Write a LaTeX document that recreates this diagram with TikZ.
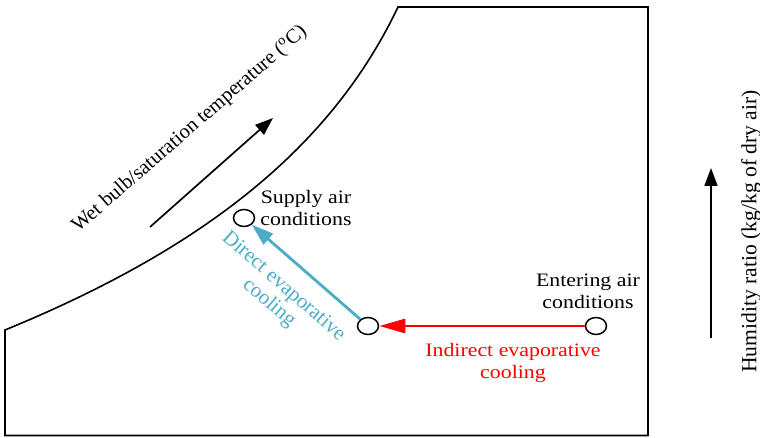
\documentclass[tikz,border=0pt]{standalone}
\usepackage{fontspec}
\setmainfont{Liberation Serif}
\newfontfamily\widefont{Liberation Serif}[FakeStretch=1.15]
\usetikzlibrary{arrows.meta,shapes.geometric}
\definecolor{directblue}{HTML}{4BACC6}
\definecolor{indirectred}{HTML}{FF0000}
\begin{document}
\begin{tikzpicture}[x=1pt,y=1pt,
  outline/.style={line width=1.6pt,line join=miter},
  statept/.style={ellipse,draw,line width=1.5pt,minimum width=21pt,minimum height=17pt,inner sep=0pt},
  lbl/.style={font=\widefont\fontsize{19}{22}\selectfont,align=center,inner sep=0pt},
  axisarrow/.style={-{Triangle[length=18pt,width=13pt]},line width=1.7pt},
  process/.style={line width=2.8pt}]
\useasboundingbox (0,0) rectangle (760,438);

% chart outline with the saturation curve
\draw[outline] (5,2.5) -- (5,108) .. controls (200,188) and (330,288) .. (398,431)
  -- (648,431) -- (648,2.5) -- cycle;

% wet bulb direction
\coordinate (wbA) at (150,211);
\coordinate (wbB) at (273,320);
\draw[axisarrow] (wbA) -- (wbB);
\node[anchor=base,rotate=41,inner sep=0pt,font=\fontsize{20.5}{24}\selectfont]
  (wblabel) at (193,305) {Wet bulb/saturation temperature ($^{\mathrm{o}}$C)};

% humidity ratio direction
\coordinate (hrA) at (711,100);
\coordinate (hrB) at (711,270);
\draw[axisarrow] (hrA) -- (hrB);
\node[rotate=90,inner sep=0pt,font=\fontsize{21.6}{25}\selectfont]
  (hrlabel) at (751,206.5) {Humidity ratio (kg/kg of dry air)};

% air states
\node[statept] (supply) at (244,220) {};
\node[statept] (mid) at (368,112) {};
\node[statept] (enter) at (596,112) {};

\node[lbl] (supplylabel) at (306,230) {Supply air\\conditions};
\node[lbl] (enterlabel) at (588,147) {Entering air\\conditions};

% processes
\draw[process,indirectred,-{Triangle[length=26pt,width=14pt]}] (enter) -- (mid);
\draw[process,directblue,-{Triangle[length=22pt,width=14pt]}] (mid) -- (supply);

\node[lbl,text=indirectred] (indirectlabel) at (513,75) {Indirect evaporative\\cooling};
\node[lbl,text=directblue,rotate=-41,font=\fontsize{21}{22}\selectfont] (directlabel) at (276,143) {Direct evaporative\\cooling};
\end{tikzpicture}
\end{document}
